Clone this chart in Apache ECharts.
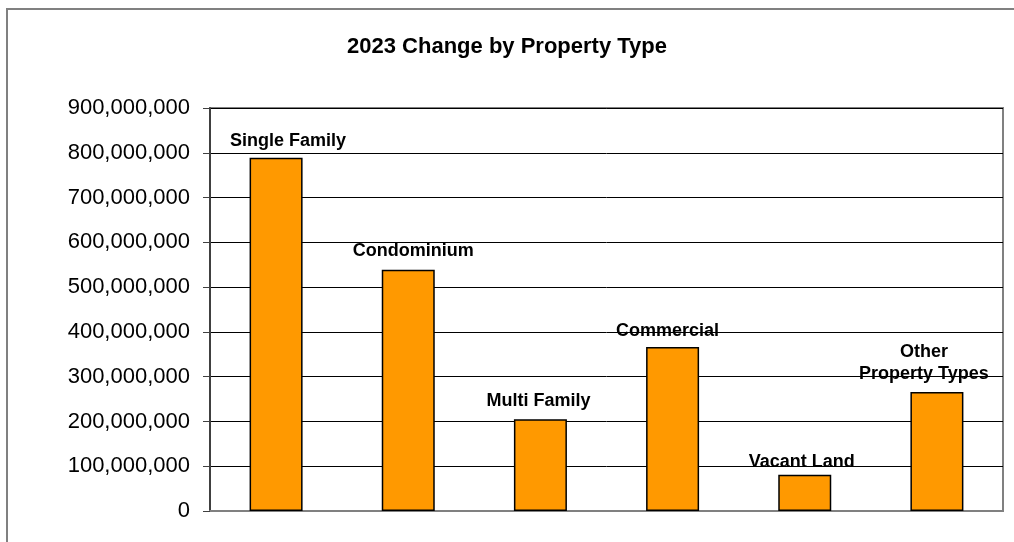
<!DOCTYPE html>
<html>
<head>
<meta charset="utf-8">
<script src="https://cdn.jsdelivr.net/npm/echarts@6/dist/echarts.min.js"></script>
<style>
html,body{margin:0;padding:0;background:#fff;}
#chart{width:1014px;height:542px;}
</style>
</head>
<body>
<div id="chart"></div>
<script>
// ---- data ----
const categories = ['Single Family', 'Condominium', 'Multi Family', 'Commercial', 'Vacant Land', 'Other Property Types'];
const barLabels = ['Single Family', 'Condominium', 'Multi Family', 'Commercial', 'Vacant Land', 'Other\nProperty Types'];
const values = [789000000, 539000000, 205000000, 366000000, 81000000, 266000000];
const titleText = '2023 Change by Property Type';

// ---- styling (label placement as in the original, manually placed labels) ----
const labelOffsets = [[12, -5.5], [5, -8], [-2, -7.5], [-5, -5], [-3, -1.5], [-13, -6.5]];

const FONT = 'Liberation Sans, Arial, sans-serif';
const chart = echarts.init(document.getElementById('chart'), null, {renderer: 'canvas'});

const seriesData = values.map((v, i) => ({
  value: v,
  label: {offset: labelOffsets[i]}
}));

chart.setOption({
  animation: false,
  backgroundColor: '#fff',
  title: {
    text: titleText,
    left: 'center',
    top: 31,
    textStyle: {fontFamily: FONT, fontWeight: 'bold', fontSize: 22, color: '#000'}
  },
  graphic: [{
    type: 'rect',
    z: -10,
    shape: {x: 7, y: 9, width: 1200, height: 700},
    style: {fill: 'none', stroke: '#808080', lineWidth: 2}
  }],
  grid: {
    left: 210, right: 11, top: 108, bottom: 31,
    show: true, borderColor: '#808080', borderWidth: 2, backgroundColor: 'transparent'
  },
  xAxis: {
    type: 'category',
    data: categories,
    axisLine: {show: true, lineStyle: {color: '#808080', width: 2}},
    axisTick: {show: false},
    axisLabel: {show: false},
    splitLine: {show: false}
  },
  yAxis: {
    type: 'value',
    min: 0, max: 900000000, interval: 100000000,
    axisLine: {show: true, lineStyle: {color: '#404040', width: 2}},
    axisTick: {show: true, length: 7, lineStyle: {color: '#404040', width: 1}},
    axisLabel: {
      fontFamily: FONT, fontSize: 22, color: '#000', margin: 20,
      formatter: v => v.toLocaleString('en-US')
    },
    splitLine: {show: true, lineStyle: {color: '#000', width: 1}}
  },
  series: [{
    type: 'bar',
    data: seriesData,
    barWidth: 53,
    itemStyle: {color: '#FF9900', borderColor: '#000', borderWidth: 1.5},
    label: {
      show: true,
      position: 'top',
      distance: 0,
      formatter: p => barLabels[p.dataIndex],
      fontFamily: FONT, fontWeight: 'bold', fontSize: 18, color: '#000',
      lineHeight: 22, align: 'center'
    }
  }]
});
</script>
</body>
</html>
